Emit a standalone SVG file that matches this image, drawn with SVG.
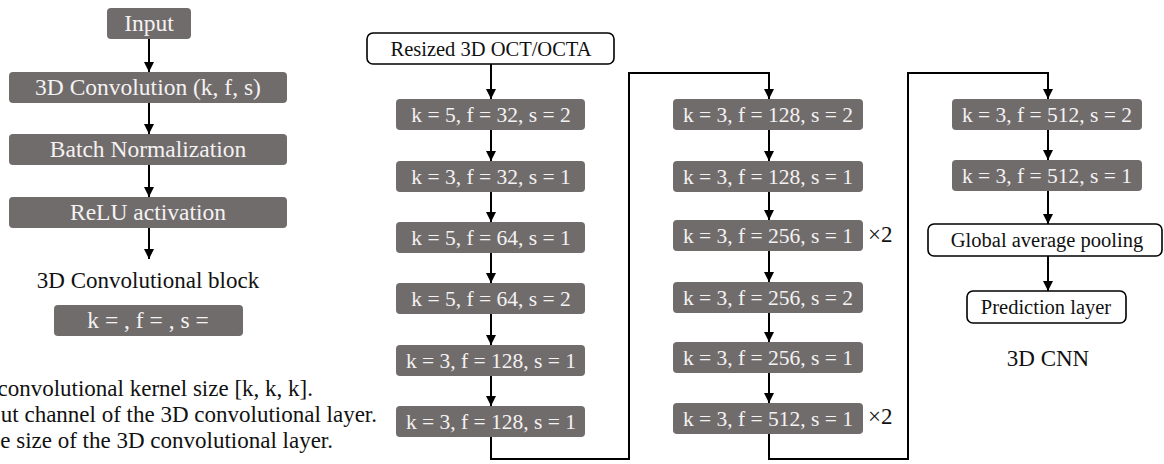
<svg xmlns="http://www.w3.org/2000/svg" width="1164" height="464" viewBox="0 0 1164 464">
  <style>
    text { font-family: "Liberation Serif", "Times New Roman", serif; }
    .blk { fill: #716c6c; }
    .blk-t { fill: #f4f2f2; font-size: 21.5px; text-anchor: middle; }
    .leg-t { font-size: 23.5px; }
    .wbox { fill: #ffffff; stroke: #000000; stroke-width: 1.6; }
    .w-t { fill: #111111; font-size: 20.5px; text-anchor: middle; }
    .lbl { fill: #111111; font-size: 23px; }
    .wire { fill: none; stroke: #000000; stroke-width: 2; }
  </style>
  <defs>
    <marker id="arrow" viewBox="0 0 10 10" refX="10" refY="5" markerWidth="5" markerHeight="5" markerUnits="strokeWidth" orient="auto">
      <path d="M0,0 L10,5 L0,10 z" fill="#000000"/>
    </marker>
  </defs>
  <rect width="1164" height="464" fill="#ffffff"/>

  <!-- Legend: structure of one convolutional block -->
  <g id="legend-input">
    <rect class="blk" x="107" y="8" width="84" height="31" rx="4"/>
    <text class="blk-t leg-t" x="149" y="31">Input</text>
  </g>
  <g id="legend-conv">
    <rect class="blk" x="9" y="72" width="278" height="31" rx="4"/>
    <text class="blk-t leg-t" x="148" y="95">3D Convolution (k, f, s)</text>
  </g>
  <g id="legend-bn">
    <rect class="blk" x="9" y="134" width="278" height="31" rx="4"/>
    <text class="blk-t leg-t" x="148" y="157">Batch Normalization</text>
  </g>
  <g id="legend-relu">
    <rect class="blk" x="9" y="197" width="278" height="31" rx="4"/>
    <text class="blk-t leg-t" x="148" y="220">ReLU activation</text>
  </g>
  <g id="legend-caption">
    <text class="lbl leg-t" x="148" y="288" text-anchor="middle">3D Convolutional block</text>
  </g>
  <g id="legend-symbol">
    <rect class="blk" x="54" y="305" width="189" height="31" rx="4"/>
    <text class="blk-t leg-t" x="148" y="328">k = , f = , s =</text>
  </g>
  <g id="legend-notes">
    <text class="lbl" x="313" y="396" text-anchor="end">convolutional kernel size [k, k, k].</text>
    <text class="lbl" x="377" y="422" text-anchor="end">ut channel of the 3D convolutional layer.</text>
    <text class="lbl" x="333" y="448" text-anchor="end">e size of the 3D convolutional layer.</text>
  </g>

  <!-- Column 1 -->
  <g id="input-volume">
    <rect class="wbox" x="367" y="33" width="247" height="31" rx="6"/>
    <text class="w-t" x="491" y="56">Resized 3D OCT/OCTA</text>
  </g>
  <g id="c1-b1">
    <rect class="blk" x="396" y="99" width="189" height="31" rx="4"/>
    <text class="blk-t" x="491" y="122">k = 5, f = 32, s = 2</text>
  </g>
  <g id="c1-b2">
    <rect class="blk" x="396" y="161" width="189" height="31" rx="4"/>
    <text class="blk-t" x="491" y="184">k = 3, f = 32, s = 1</text>
  </g>
  <g id="c1-b3">
    <rect class="blk" x="396" y="222" width="189" height="31" rx="4"/>
    <text class="blk-t" x="491" y="245">k = 5, f = 64, s = 1</text>
  </g>
  <g id="c1-b4">
    <rect class="blk" x="396" y="283" width="189" height="31" rx="4"/>
    <text class="blk-t" x="491" y="306">k = 5, f = 64, s = 2</text>
  </g>
  <g id="c1-b5">
    <rect class="blk" x="396" y="345" width="189" height="31" rx="4"/>
    <text class="blk-t" x="491" y="368">k = 3, f = 128, s = 1</text>
  </g>
  <g id="c1-b6">
    <rect class="blk" x="396" y="406" width="189" height="31" rx="4"/>
    <text class="blk-t" x="491" y="429">k = 3, f = 128, s = 1</text>
  </g>

  <!-- Column 2 -->
  <g id="c2-b1">
    <rect class="blk" x="673" y="99" width="190" height="31" rx="4"/>
    <text class="blk-t" x="768" y="122">k = 3, f = 128, s = 2</text>
  </g>
  <g id="c2-b2">
    <rect class="blk" x="673" y="161" width="190" height="31" rx="4"/>
    <text class="blk-t" x="768" y="184">k = 3, f = 128, s = 1</text>
  </g>
  <g id="c2-b3">
    <rect class="blk" x="673" y="220" width="190" height="31" rx="4"/>
    <text class="blk-t" x="768" y="243">k = 3, f = 256, s = 1</text>
    <text class="lbl" x="868" y="242" font-size="19">×2</text>
  </g>
  <g id="c2-b4">
    <rect class="blk" x="673" y="282" width="190" height="31" rx="4"/>
    <text class="blk-t" x="768" y="305">k = 3, f = 256, s = 2</text>
  </g>
  <g id="c2-b5">
    <rect class="blk" x="673" y="342" width="190" height="31" rx="4"/>
    <text class="blk-t" x="768" y="365">k = 3, f = 256, s = 1</text>
  </g>
  <g id="c2-b6">
    <rect class="blk" x="673" y="403" width="190" height="31" rx="4"/>
    <text class="blk-t" x="768" y="426">k = 3, f = 512, s = 1</text>
    <text class="lbl" x="868" y="424" font-size="19">×2</text>
  </g>

  <!-- Column 3 -->
  <g id="c3-b1">
    <rect class="blk" x="952" y="99" width="190" height="31" rx="4"/>
    <text class="blk-t" x="1047" y="122">k = 3, f = 512, s = 2</text>
  </g>
  <g id="c3-b2">
    <rect class="blk" x="952" y="160" width="190" height="31" rx="4"/>
    <text class="blk-t" x="1047" y="183">k = 3, f = 512, s = 1</text>
  </g>
  <g id="gap">
    <rect class="wbox" x="928" y="224" width="234" height="32" rx="6"/>
    <text class="w-t" x="1047" y="247">Global average pooling</text>
  </g>
  <g id="prediction">
    <rect class="wbox" x="967" y="291" width="159" height="32" rx="6"/>
    <text class="w-t" x="1046" y="314">Prediction layer</text>
  </g>
  <g id="model-caption">
    <text class="lbl" x="1048" y="366" text-anchor="middle">3D CNN</text>
  </g>

  <!-- Connectors -->
  <g id="connectors">
    <line class="wire" x1="149" y1="39" x2="149" y2="72" marker-end="url(#arrow)"/>
    <line class="wire" x1="149" y1="103" x2="149" y2="134" marker-end="url(#arrow)"/>
    <line class="wire" x1="149" y1="165" x2="149" y2="197" marker-end="url(#arrow)"/>
    <line class="wire" x1="149" y1="228" x2="149" y2="259" marker-end="url(#arrow)"/>

    <line class="wire" x1="491" y1="64" x2="491" y2="99" marker-end="url(#arrow)"/>
    <line class="wire" x1="491" y1="130" x2="491" y2="161" marker-end="url(#arrow)"/>
    <line class="wire" x1="491" y1="192" x2="491" y2="222" marker-end="url(#arrow)"/>
    <line class="wire" x1="491" y1="253" x2="491" y2="283" marker-end="url(#arrow)"/>
    <line class="wire" x1="491" y1="314" x2="491" y2="345" marker-end="url(#arrow)"/>
    <line class="wire" x1="491" y1="376" x2="491" y2="406" marker-end="url(#arrow)"/>
    <path class="wire" d="M491,437 V459 H629 V73 H769 V99" marker-end="url(#arrow)"/>

    <line class="wire" x1="769" y1="130" x2="769" y2="161" marker-end="url(#arrow)"/>
    <line class="wire" x1="769" y1="192" x2="769" y2="220" marker-end="url(#arrow)"/>
    <line class="wire" x1="769" y1="251" x2="769" y2="282" marker-end="url(#arrow)"/>
    <line class="wire" x1="769" y1="313" x2="769" y2="342" marker-end="url(#arrow)"/>
    <line class="wire" x1="769" y1="373" x2="769" y2="403" marker-end="url(#arrow)"/>
    <path class="wire" d="M769,434 V459 H908 V73 H1048 V99" marker-end="url(#arrow)"/>

    <line class="wire" x1="1048" y1="130" x2="1048" y2="160" marker-end="url(#arrow)"/>
    <line class="wire" x1="1048" y1="191" x2="1048" y2="224" marker-end="url(#arrow)"/>
    <line class="wire" x1="1048" y1="256" x2="1048" y2="291" marker-end="url(#arrow)"/>
  </g>
</svg>
